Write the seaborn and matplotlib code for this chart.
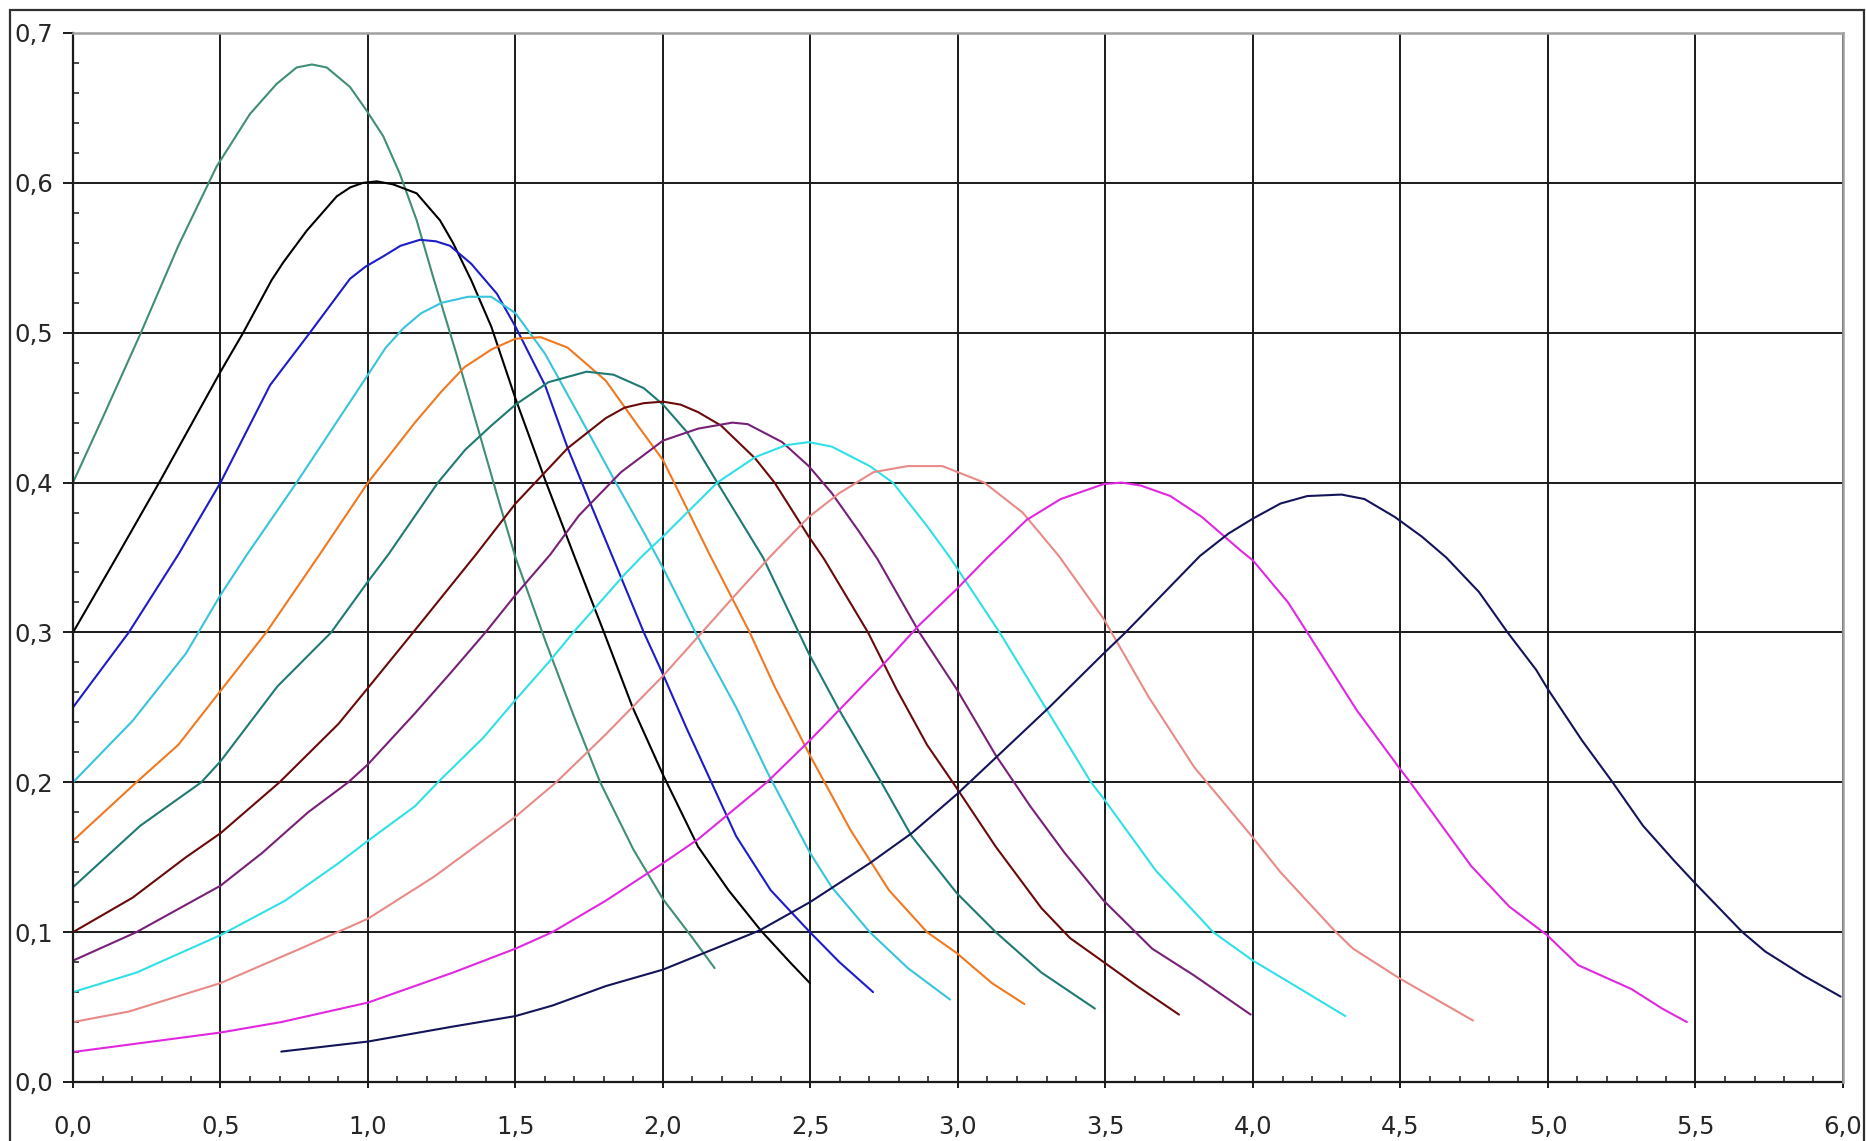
import numpy as np
import pandas as pd
import matplotlib
matplotlib.use("Agg")
import matplotlib.pyplot as plt
import seaborn as sns
from matplotlib.ticker import MultipleLocator, FuncFormatter
from matplotlib.patches import Rectangle

# ---------------- data ----------------
c1_x = [0, 0.1, 0.228, 0.357, 0.487, 0.6, 0.69, 0.758, 0.81, 0.86, 0.939, 0.996, 1.052, 1.108, 1.165, 1.221, 1.301, 1.37, 1.44, 1.5, 1.6, 1.70, 1.787, 1.9, 2.0, 2.093, 2.175]
c1_y = [0.40, 0.443, 0.499, 0.558, 0.611, 0.646, 0.666, 0.677, 0.679, 0.677, 0.664, 0.648, 0.631, 0.606, 0.575, 0.537, 0.485, 0.438, 0.39, 0.35, 0.295, 0.243, 0.20, 0.155, 0.122, 0.098, 0.076]

c2_x = [0, 0.147, 0.292, 0.5, 0.577, 0.673, 0.713, 0.792, 0.894, 0.94, 0.983, 1.03, 1.085, 1.165, 1.244, 1.288, 1.35, 1.418, 1.5, 1.6, 1.703, 1.8, 1.897, 2.0, 2.119, 2.222, 2.332, 2.43, 2.498]
c2_y = [0.30, 0.35, 0.40, 0.474, 0.50, 0.535, 0.547, 0.568, 0.591, 0.597, 0.600, 0.601, 0.599, 0.593, 0.575, 0.56, 0.535, 0.504, 0.456, 0.402, 0.349, 0.30, 0.25, 0.205, 0.157, 0.128, 0.101, 0.08, 0.066]

c3_x = [0, 0.189, 0.357, 0.5, 0.668, 0.803, 0.939, 0.991, 1.052, 1.11, 1.176, 1.23, 1.278, 1.35, 1.437, 1.5, 1.6, 1.677, 1.754, 1.832, 1.935, 2.0, 2.08, 2.164, 2.248, 2.365, 2.498, 2.598, 2.712]
c3_y = [0.25, 0.30, 0.352, 0.40, 0.465, 0.50, 0.536, 0.544, 0.551, 0.558, 0.562, 0.561, 0.558, 0.546, 0.526, 0.504, 0.465, 0.423, 0.386, 0.349, 0.30, 0.272, 0.236, 0.20, 0.164, 0.128, 0.10, 0.08, 0.06]

c4_x = [0, 0.202, 0.383, 0.5, 0.59, 0.758, 1.0, 1.06, 1.12, 1.18, 1.25, 1.34, 1.418, 1.5, 1.6, 1.715, 1.84, 1.94, 2.0, 2.11, 2.248, 2.358, 2.498, 2.572, 2.701, 2.83, 2.973]
c4_y = [0.20, 0.241, 0.286, 0.325, 0.352, 0.40, 0.472, 0.49, 0.503, 0.513, 0.52, 0.524, 0.524, 0.513, 0.486, 0.445, 0.40, 0.365, 0.343, 0.30, 0.25, 0.205, 0.153, 0.13, 0.10, 0.076, 0.055]

c5_x = [0, 0.215, 0.357, 0.5, 0.655, 0.836, 1.0, 1.159, 1.25, 1.327, 1.42, 1.5, 1.586, 1.677, 1.806, 1.922, 2.0, 2.158, 2.294, 2.378, 2.498, 2.636, 2.766, 2.895, 2.996, 3.115, 3.225]
c5_y = [0.161, 0.20, 0.225, 0.261, 0.30, 0.352, 0.40, 0.44, 0.461, 0.477, 0.489, 0.496, 0.497, 0.49, 0.468, 0.436, 0.415, 0.352, 0.30, 0.264, 0.218, 0.168, 0.128, 0.10, 0.086, 0.066, 0.052]

c6_x = [0, 0.228, 0.435, 0.5, 0.693, 0.875, 1.0, 1.069, 1.237, 1.33, 1.418, 1.5, 1.612, 1.741, 1.832, 1.935, 2.0, 2.08, 2.184, 2.339, 2.494, 2.598, 2.74, 2.843, 2.996, 3.128, 3.283, 3.464]
c6_y = [0.13, 0.171, 0.20, 0.214, 0.264, 0.30, 0.334, 0.352, 0.40, 0.422, 0.438, 0.452, 0.467, 0.474, 0.472, 0.463, 0.452, 0.434, 0.40, 0.350, 0.286, 0.248, 0.20, 0.164, 0.126, 0.10, 0.073, 0.049]

c7_x = [0, 0.202, 0.383, 0.5, 0.7, 0.9, 1.0, 1.153, 1.366, 1.5, 1.677, 1.806, 1.87, 1.935, 2.0, 2.06, 2.119, 2.197, 2.313, 2.378, 2.494, 2.546, 2.695, 2.792, 2.895, 2.996, 3.128, 3.283, 3.38, 3.494, 3.607, 3.749]
c7_y = [0.10, 0.123, 0.15, 0.166, 0.20, 0.239, 0.263, 0.30, 0.352, 0.386, 0.423, 0.443, 0.45, 0.453, 0.454, 0.452, 0.447, 0.438, 0.416, 0.40, 0.364, 0.349, 0.30, 0.262, 0.225, 0.196, 0.157, 0.116, 0.096, 0.08, 0.064, 0.045]

c8_x = [0, 0.215, 0.5, 0.642, 0.797, 0.933, 1.0, 1.159, 1.28, 1.398, 1.5, 1.618, 1.715, 1.858, 2.0, 2.119, 2.235, 2.287, 2.404, 2.494, 2.572, 2.662, 2.727, 2.869, 2.996, 3.128, 3.245, 3.361, 3.494, 3.658, 3.801, 3.992]
c8_y = [0.081, 0.10, 0.131, 0.153, 0.18, 0.20, 0.212, 0.246, 0.273, 0.30, 0.325, 0.352, 0.378, 0.407, 0.428, 0.436, 0.44, 0.439, 0.427, 0.411, 0.393, 0.368, 0.349, 0.30, 0.262, 0.218, 0.184, 0.153, 0.121, 0.089, 0.071, 0.045]

c9_x = [0, 0.215, 0.5, 0.719, 0.9, 1.0, 1.159, 1.237, 1.392, 1.5, 1.612, 1.696, 1.871, 1.935, 2.0, 2.184, 2.313, 2.417, 2.494, 2.572, 2.701, 2.779, 2.895, 2.973, 3.141, 3.296, 3.451, 3.494, 3.671, 3.865, 4.0, 4.119, 4.313]
c9_y = [0.06, 0.073, 0.098, 0.121, 0.146, 0.161, 0.184, 0.20, 0.23, 0.255, 0.28, 0.30, 0.339, 0.352, 0.364, 0.40, 0.417, 0.425, 0.427, 0.424, 0.411, 0.40, 0.371, 0.35, 0.30, 0.25, 0.20, 0.189, 0.141, 0.10, 0.081, 0.067, 0.044]

c10_x = [0, 0.189, 0.5, 0.771, 1.0, 1.224, 1.5, 1.638, 1.806, 2.0, 2.132, 2.236, 2.365, 2.494, 2.598, 2.714, 2.83, 2.947, 3.089, 3.219, 3.342, 3.494, 3.646, 3.801, 4.0, 4.093, 4.281, 4.339, 4.498, 4.746]
c10_y = [0.04, 0.047, 0.066, 0.089, 0.109, 0.137, 0.177, 0.20, 0.232, 0.271, 0.30, 0.323, 0.351, 0.377, 0.393, 0.407, 0.411, 0.411, 0.40, 0.38, 0.351, 0.309, 0.257, 0.21, 0.163, 0.14, 0.10, 0.089, 0.069, 0.041]

c11_x = [0, 0.5, 0.706, 1.0, 1.288, 1.5, 1.625, 1.806, 2.0, 2.119, 2.352, 2.498, 2.753, 2.869, 2.996, 3.1, 3.232, 3.348, 3.494, 3.555, 3.62, 3.72, 3.827, 3.956, 4.0, 4.119, 4.184, 4.352, 4.498, 4.533, 4.74, 4.869, 4.997, 5.102, 5.283, 5.387, 5.471]
c11_y = [0.02, 0.033, 0.04, 0.053, 0.073, 0.089, 0.10, 0.121, 0.146, 0.162, 0.20, 0.228, 0.28, 0.305, 0.329, 0.35, 0.375, 0.389, 0.399, 0.40, 0.398, 0.391, 0.377, 0.355, 0.348, 0.32, 0.30, 0.248, 0.209, 0.20, 0.144, 0.117, 0.098, 0.078, 0.062, 0.049, 0.04]

c12_x = [0.706, 1.0, 1.288, 1.5, 1.625, 1.806, 2.0, 2.326, 2.498, 2.701, 2.843, 2.996, 3.115, 3.309, 3.494, 3.568, 3.82, 3.917, 4.0, 4.093, 4.184, 4.3, 4.378, 4.481, 4.572, 4.655, 4.766, 4.863, 4.96, 5.0, 5.115, 5.219, 5.322, 5.426, 5.497, 5.659, 5.737, 5.866, 5.992]
c12_y = [0.0203, 0.027, 0.037, 0.044, 0.051, 0.064, 0.075, 0.101, 0.12, 0.146, 0.166, 0.192, 0.214, 0.25, 0.286, 0.30, 0.351, 0.366, 0.376, 0.386, 0.391, 0.392, 0.389, 0.377, 0.364, 0.35, 0.327, 0.30, 0.275, 0.262, 0.228, 0.20, 0.171, 0.148, 0.133, 0.10, 0.087, 0.071, 0.057]

curve_names = ["c1", "c2", "c3", "c4", "c5", "c6", "c7", "c8", "c9", "c10", "c11", "c12"]
curve_colors = ["#3f8f72", "#000000", "#1c1cc8", "#38c4dc", "#f07820", "#1e7a72",
                "#6a0a0a", "#782078", "#30e0e8", "#e88a88", "#e028e0", "#14145a"]

xs = [c1_x, c2_x, c3_x, c4_x, c5_x, c6_x, c7_x, c8_x, c9_x, c10_x, c11_x, c12_x]
ys = [c1_y, c2_y, c3_y, c4_y, c5_y, c6_y, c7_y, c8_y, c9_y, c10_y, c11_y, c12_y]

frames = []
for name, x, y in zip(curve_names, xs, ys):
    frames.append(pd.DataFrame({"x": x, "y": y, "curve": name}))
df = pd.concat(frames, ignore_index=True)

# ---------------- figure ----------------
sns.set_style("white")
plt.rcParams["font.family"] = ["DejaVu Sans"]

W, H = 1866, 1141
fig = plt.figure(figsize=(W / 100, H / 100), dpi=100)
fig.patch.set_facecolor("white")

ax = fig.add_axes([73 / W, 1 - 1082 / H, (1843 - 73) / W, (1082 - 33) / H])

sns.lineplot(data=df, x="x", y="y", hue="curve", palette=dict(zip(curve_names, curve_colors)),
             estimator=None, sort=False, legend=False, linewidth=1.5, ax=ax)
for ln in ax.get_lines():
    ln.set_solid_joinstyle("round")
    ln.set_solid_capstyle("round")

ax.set_xlim(0, 6.0)
ax.set_ylim(0, 0.7)
ax.set_xlabel("")
ax.set_ylabel("")

ax.xaxis.set_major_locator(MultipleLocator(0.5))
ax.xaxis.set_minor_locator(MultipleLocator(0.1))
ax.yaxis.set_major_locator(MultipleLocator(0.1))
ax.yaxis.set_minor_locator(MultipleLocator(0.02))
fmt = FuncFormatter(lambda v, p: f"{v:.1f}".replace(".", ","))
ax.xaxis.set_major_formatter(fmt)
ax.yaxis.set_major_formatter(fmt)

ax.set_axisbelow(True)
ax.grid(True, which="major", color="#1a1a1a", linewidth=1.4)
ax.grid(False, which="minor")

ax.tick_params(axis="y", which="major", direction="out", length=7.2, width=1.4,
               color="#1a1a1a", labelsize=17.5, pad=7, left=True)
ax.tick_params(axis="x", which="major", direction="out", length=4.5, width=1.4,
               color="#1a1a1a", labelsize=17.5, pad=19, bottom=True)
ax.tick_params(axis="both", which="minor", direction="in", length=4.5, width=1.1,
               color="#1a1a1a", left=True, bottom=True)

for side in ["left", "bottom"]:
    ax.spines[side].set_color("#1a1a1a")
    ax.spines[side].set_linewidth(1.6)
for side in ["top", "right"]:
    ax.spines[side].set_color("#a0a0a0")
    ax.spines[side].set_linewidth(1.8)
    ax.spines[side].set_zorder(3)

# outer frame around the whole picture
fig.patches.append(Rectangle((9.5 / W, -0.01), (1863.5 - 9.5) / W, 1.01 - 9.5 / H,
                             transform=fig.transFigure, fill=False,
                             edgecolor="#303030", linewidth=1.6))

fig.savefig("out.png", dpi=100, facecolor="white")
